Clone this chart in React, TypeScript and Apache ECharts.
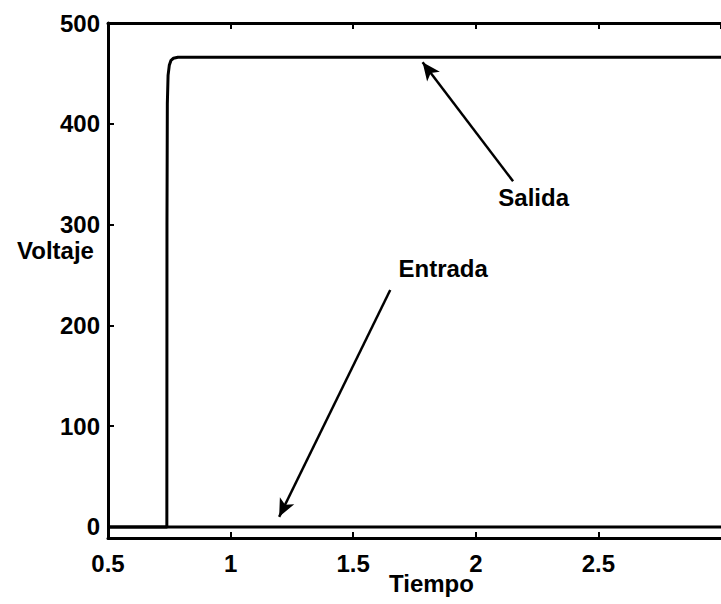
import React, { useEffect, useRef } from "react";
import * as echarts from "echarts";

// Step response: time (s) and voltage (V)
const salidaTiempo = [0.5, 0.74, 0.7405, 0.742, 0.745, 0.75, 0.757, 0.767, 0.785, 0.82, 3.0];
const salidaVoltaje = [0, 0, 300, 420, 448, 458, 463, 465, 466, 466, 466];
const entradaTiempo = [0.5, 3.0];
const entradaVoltaje = [0, 0];

const xTicks = [0.5, 1, 1.5, 2, 2.5, 3];
const yTicks = [0, 100, 200, 300, 400, 500];
const yMin = -11;

// Annotation arrows: [tailX, tailY, tipX, tipY] in data units
const flechaSalida = [2.152, 343, 1.783, 461];
const flechaEntrada = [1.651, 235, 1.198, 10];
// Annotation texts: [x, y] in data units
const textoSalida = { nombre: "Salida", pos: [2.236, 327] };
const textoEntrada = { nombre: "Entrada", pos: [1.867, 256] };

const FONT = "'Liberation Sans', Arial, Helvetica, sans-serif";

export default function App() {
  const ref = useRef<HTMLDivElement>(null);

  useEffect(() => {
    if (!ref.current) return;
    const chart = echarts.init(ref.current, null, { renderer: "svg" });

    const zip = (xs: number[], ys: number[]) => xs.map((x, i) => [x, ys[i]]);
    const labelStyle = {
      color: "#000",
      fontFamily: FONT,
      fontWeight: "bold" as const,
      fontSize: 24,
    };
    const axisLine = { show: true, onZero: false, lineStyle: { color: "#000", width: 3 } };
    const axisTick = { show: true, inside: true, length: 6, lineStyle: { color: "#000", width: 2 } };

    chart.setOption({
      animation: false,
      backgroundColor: "#fff",
      grid: { left: 108, top: 23, right: -11, bottom: 66, show: false },
      xAxis: [
        {
          type: "value",
          position: "bottom",
          min: xTicks[0],
          max: xTicks[xTicks.length - 1],
          interval: 0.5,
          axisLine,
          axisTick,
          splitLine: { show: false },
          axisLabel: {
            ...labelStyle,
            margin: 13,
            showMaxLabel: false,
            formatter: (v: number) => String(v),
          },
        },
        {
          type: "value",
          position: "top",
          min: xTicks[0],
          max: xTicks[xTicks.length - 1],
          interval: 0.5,
          axisLine,
          axisTick,
          splitLine: { show: false },
          axisLabel: { show: false },
        },
      ],
      yAxis: {
        type: "value",
        min: yMin,
        max: yTicks[yTicks.length - 1],
        axisLine,
        axisTick: { ...axisTick, customValues: yTicks },
        splitLine: { show: false },
        axisLabel: {
          ...labelStyle,
          margin: 8,
          customValues: yTicks,
          formatter: (v: number) => String(v),
        },
      },
      graphic: [
        {
          type: "text",
          left: 17,
          top: 238,
          style: { text: "Voltaje", fill: "#000", font: `bold 24px ${FONT}` },
        },
        {
          type: "text",
          left: 389,
          top: 571,
          style: { text: "Tiempo", fill: "#000", font: `bold 24px ${FONT}` },
        },
      ],
      series: [
        {
          name: "Entrada",
          type: "line",
          data: zip(entradaTiempo, entradaVoltaje),
          showSymbol: false,
          lineStyle: { color: "#000", width: 3 },
        },
        {
          name: "Salida",
          type: "line",
          data: zip(salidaTiempo, salidaVoltaje),
          showSymbol: false,
          smooth: false,
          lineStyle: { color: "#000", width: 3, join: "round" },
          markLine: {
            silent: true,
            symbol: ["none", "arrow"],
            symbolSize: [12, 18],
            label: { show: false },
            lineStyle: { color: "#000", width: 2.5, type: "solid" },
            data: [
              [
                { coord: [flechaSalida[0], flechaSalida[1]] },
                { coord: [flechaSalida[2], flechaSalida[3]] },
              ],
              [
                { coord: [flechaEntrada[0], flechaEntrada[1]] },
                { coord: [flechaEntrada[2], flechaEntrada[3]] },
              ],
            ],
          },
          markPoint: {
            silent: true,
            symbol: "circle",
            symbolSize: 0,
            label: {
              show: true,
              position: "inside",
              formatter: (p: any) => p.name,
              ...labelStyle,
            },
            data: [
              { name: textoSalida.nombre, coord: textoSalida.pos },
              { name: textoEntrada.nombre, coord: textoEntrada.pos },
            ],
          },
        },
      ],
    });

    return () => chart.dispose();
  }, []);

  return (
    <div
      ref={ref}
      style={{ position: "fixed", left: 0, top: 0, width: 721, height: 604 }}
    />
  );
}
